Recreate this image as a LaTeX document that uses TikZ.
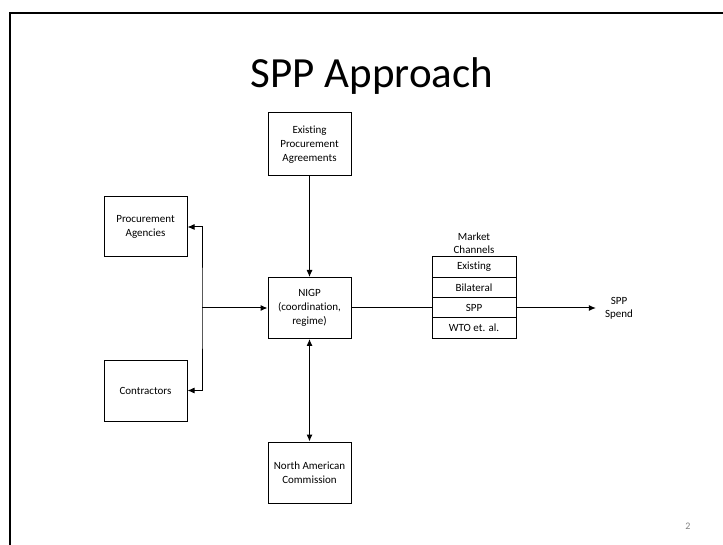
\documentclass[tikz,border=0pt]{standalone}
\usepackage{fontspec}
\setmainfont{Carlito}[Ligatures=NoCommon]
\usetikzlibrary{arrows.meta}
\begin{document}
\begin{tikzpicture}[x=1pt,y=-1pt,
  >={Latex[length=7pt,width=6pt]},
  box/.style={draw=black,line width=1pt,minimum width=83pt,minimum height=61pt,
    align=center,inner sep=0pt,font=\fontsize{11}{14}\selectfont},
  row/.style={draw=black,line width=1pt,minimum width=84pt,minimum height=20.25pt,
    inner sep=0pt,font=\fontsize{11}{14}\selectfont},
  lbl/.style={align=center,inner sep=0pt,font=\fontsize{11}{13}\selectfont},
  conn/.style={line width=1pt,draw=black}]
\useasboundingbox (0,0) rectangle (723,545);
% slide frame (cut by the image edges)
\draw[line width=2pt] (10,545) -- (10,13) -- (723,13);
% title
\node[anchor=base,inner sep=0pt,font=\fontsize{43}{50}\selectfont] (title) at (372,87.5) {SPP Approach};
% boxes
\node[box,minimum height=63pt] (ex) at (309.5,144.5) {Existing\\Procurement\\Agreements};
\node[box] (nigp) at (309.5,308) {NIGP\\(coordination,\\regime)};
\node[box] (nac) at (309.5,472.5) {North American\\Commission};
\node[box,minimum height=60pt] (pa) at (145.5,227) {Procurement\\Agencies};
\node[box] (con) at (145.5,390.5) {Contractors};
% market channels
\node[lbl] (mc) at (474,243) {Market\\Channels};
\node[row] (r1) at (474,267.1) {Existing};
\node[row] (r2) at (474,287.4) {Bilateral};
\node[row] (r3) at (474,307.6) {SPP};
\node[row] (r4) at (474,327.9) {WTO et. al.};
\node[lbl,inner xsep=9pt] (spend) at (619,308) {SPP\\Spend};
% page number
\node[inner sep=0pt,text=black!50,font=\fontsize{10}{12}\selectfont] (pg) at (688,526) {2};
% connectors
\coordinate (J) at (202,308);
\draw[conn,->] (ex.south) -- (nigp.north);
\draw[conn,<->] (nigp.south) -- (nac.north);
\draw[conn,<->] (pa.east) -| (J) |- (con.east);
\draw[conn,->] (J) -- (nigp.west);
\draw[conn] (nigp.east) -- (nigp.east -| r3.west);
\draw[conn,->] (r3.east |- spend.west) -- (spend.west);
\end{tikzpicture}
\end{document}
